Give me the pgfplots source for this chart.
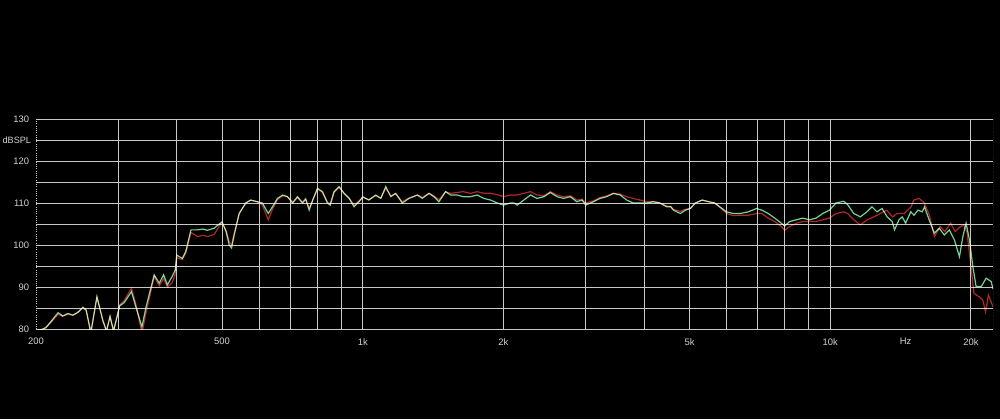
\documentclass[border=0pt]{standalone}
\usepackage{fontspec}
\setmainfont{Liberation Sans}
\usepackage{pgfplots}
\pgfplotsset{compat=1.18}
\definecolor{gridc}{RGB}{200,200,200}
\definecolor{txt}{RGB}{210,210,210}
\definecolor{grn}{RGB}{120,210,150}
\definecolor{rd}{RGB}{175,40,40}
\begin{document}
\begin{tikzpicture}
\fill[black] (-9mm,-22.5mm) rectangle (241mm,82.25mm);
\useasboundingbox (-9mm,-22.5mm) rectangle (241mm,82.25mm);
\begin{axis}[
  scale only axis, width=239.25mm, height=52.5mm,
  xmode=log, log basis x=10,
  xmin=200, xmax=22300, ymin=80, ymax=130,
  xtick={500,1000,2000,5000,10000,20000},
  xticklabels={500,1k,2k,5k,10k,20k},
  minor xtick={300,400,600,700,800,900,3000,4000,6000,7000,8000,9000},
  extra x ticks={200,14500}, extra x tick labels={200,Hz},
  extra x tick style={grid=none},
  ytick={80,90,...,130},
  minor ytick={85,95,...,125},
  extra y ticks={125}, extra y tick labels={dBSPL},
  extra y tick style={grid=none, yticklabel style={xshift=0.5mm, font=\fontsize{6.5}{8}\selectfont}},
  grid=both,
  major grid style={gridc, line width=0.6pt},
  minor grid style={gridc, line width=0.6pt},
  tick style={draw=none},
  axis line style={draw=none},
  tick label style={font=\fontsize{6.7}{8}\selectfont, text=txt},
  xticklabel style={yshift=-1.1mm},
  yticklabel style={xshift=-0.5mm},
  /pgf/number format/assume math mode=true,
]
\draw[gridc, densely dotted, line width=0.6pt] (rel axis cs:0,0) -- (rel axis cs:0,1);
\draw[gridc, densely dotted, line width=0.6pt] (rel axis cs:1,0) -- (rel axis cs:1,1);
\addplot[rd, line width=0.85pt, blend mode=screen] coordinates {
(200,79.5)(207,80)(210,80.5)(215,81.5)(223,83.5)(228,83)(234,83.5)(240,83.3)(246,84)(252,85)(256,84.5)
(262,79.5)(270,87.5)(278,82)(283,79.5)(288,83)(293,79.5)(302,85.7)(309,86.8)(320,89.7)(327,86)(337,79)
(344,84)(358,92.5)(367,90.3)(375,92)(382,90)(391,91)(397,93)(400,97)(411,96.5)(418,98)(429,103)(443,102)
(455,102.3)(465,102)(481,102.5)(493,104.5)(500,105.3)(510,103.5)(518,100.8)(524,100)(530,102.5)(544,107.5)
(562,110)(576,110.7)(595,110.3)(610,109.5)(628,106)(641,108.5)(657,110.8)(674,111.7)(690,111.5)(708,110.2)
(725,111.3)(743,110.2)(755,110.8)(768,108.8)(784,111)(800,113.3)(820,112.5)(840,110.3)(852,109.8)(868,112.5)
(890,113.7)(912,112.3)(935,111.2)(958,109.5)(982,110.5)(1000,111.3)(1030,110.8)(1066,111.7)(1093,111.2)
(1120,113.5)(1148,111.7)(1176,112.2)(1215,110.3)(1256,111.2)(1309,111.9)(1341,111.3)(1386,112.3)(1420,111.7)
(1455,110.8)(1504,112.7)(1541,112.3)(1592,112.5)(1640,112.7)(1700,112.3)(1758,112.7)(1815,112.3)(1877,112.3)
(1940,112)(2000,111.5)(2070,111.9)(2106,111.9)(2140,111.9)(2210,112.3)(2285,112.7)(2360,111.9)(2440,111.7)
(2520,112.7)(2604,111.9)(2690,111.5)(2780,111.7)(2870,110.7)(2945,110.9)(3000,110)(3115,110.5)(3220,111.3)
(3325,111.7)(3440,112.3)(3555,112.1)(3670,111.5)(3790,111.1)(3920,110.7)(4050,110.3)(4185,110.3)(4320,110)
(4470,109.3)(4560,109.1)(4620,108.5)(4780,108)(4900,108.5)(5020,108.7)(5150,110)(5320,110.7)(5500,110.3)
(5660,110)(5870,108.5)(6000,107.5)(6200,107)(6420,107.1)(6680,107.1)(6960,107.5)(7140,107.5)(7370,106.4)
(7610,105.6)(7860,104.4)(7990,103.5)(8190,104.4)(8460,105.2)(8740,105.6)(9030,105.6)(9330,105.6)(9640,106)
(9960,106.4)(10290,107.5)(10690,107.9)(10900,107.5)(11230,106)(11600,104.8)(12000,106)(12400,106.7)(12800,107.5)
(13200,108.3)(13600,106.7)(13900,107.5)(14400,107.5)(14900,109.1)(15100,110.7)(15500,111.1)(15900,110)
(16300,107.1)(16700,102)(17200,104.4)(17600,103.2)(18100,105.2)(18500,103.2)(19000,104.4)(19300,104.8)
(19600,103.2)(19900,97.2)(20300,88.5)(20800,87.7)(21200,86.9)(21500,84.1)(21800,88.1)(22300,85.3)
};
\addplot[grn, line width=0.85pt, blend mode=screen] coordinates {
(200,79.5)(207,80)(210,80.3)(215,81.7)(223,83.9)(228,83.1)(234,83.7)(240,83.3)(246,84)(252,85.2)(256,84.5)
(262,79)(270,87.7)(278,82)(283,79.5)(288,83)(293,79.5)(302,85.5)(309,86.3)(320,88.9)(327,85.3)(337,80.5)
(344,85.3)(358,92.9)(367,90.9)(375,92.9)(382,90.5)(391,92.5)(397,94)(400,97.6)(411,96.8)(418,98.4)(429,103.6)
(443,103.6)(455,103.8)(465,103.5)(481,104)(493,105)(500,105.5)(510,103.2)(518,100)(524,99.3)(530,102)
(544,107.5)(562,110)(576,110.7)(595,110.3)(610,110)(628,107.5)(641,109.1)(657,111.1)(674,111.9)(690,111.5)
(708,110)(725,111.5)(743,110)(755,111)(768,108.3)(784,111.1)(800,113.5)(820,112.7)(840,110)(852,109.5)
(868,112.7)(890,113.9)(912,112.3)(935,111.1)(958,109.1)(982,110.3)(1000,111.5)(1030,110.7)(1066,111.9)
(1093,111.1)(1120,113.9)(1148,111.5)(1176,112.3)(1215,110)(1256,111.1)(1309,111.9)(1341,111.1)(1386,112.3)
(1420,111.5)(1455,110.3)(1504,112.7)(1541,111.9)(1592,111.9)(1640,111.5)(1700,111.5)(1758,111.9)(1815,111.1)
(1877,110.7)(1940,110)(2000,109.5)(2070,110)(2106,110)(2140,109.5)(2210,110.7)(2285,111.9)(2360,111.1)
(2440,111.5)(2520,112.5)(2604,111.5)(2690,111.1)(2780,111.5)(2870,110.3)(2945,110.7)(3000,109.5)(3115,110.3)
(3220,111.1)(3325,111.5)(3440,112.3)(3555,111.9)(3670,110.7)(3790,110)(3920,110)(4050,110)(4185,110.3)
(4320,110)(4470,109.1)(4560,109.1)(4620,108.3)(4780,107.5)(4900,108.3)(5020,108.7)(5150,110)(5320,110.7)
(5500,110.3)(5660,110)(5870,108.7)(6000,107.9)(6200,107.5)(6420,107.5)(6680,107.9)(6960,108.7)(7140,108.3)
(7370,107.5)(7610,106.4)(7860,105.2)(7990,104.5)(8190,105.6)(8460,106)(8740,106.4)(9030,106)(9330,106.4)
(9640,107.5)(9960,108.3)(10290,110)(10690,110.4)(10900,109.6)(11230,107.5)(11600,106.7)(11980,107.9)
(12280,109.1)(12590,107.9)(12910,108.7)(13240,106.7)(13570,105.6)(13730,103.6)(14030,106)(14260,106.7)
(14500,105.2)(14870,107.9)(15110,107.1)(15410,108.3)(15740,107.9)(15910,109.1)(16280,106)(16700,102.8)
(17110,104)(17540,102.4)(17980,103.6)(18440,101.2)(18900,97.2)(19220,102)(19530,105.2)(19860,101.2)
(20190,94.8)(20520,90.1)(21040,90.1)(21560,92.1)(22100,91.3)(22300,89.5)
};
\end{axis}
\end{tikzpicture}
\end{document}
